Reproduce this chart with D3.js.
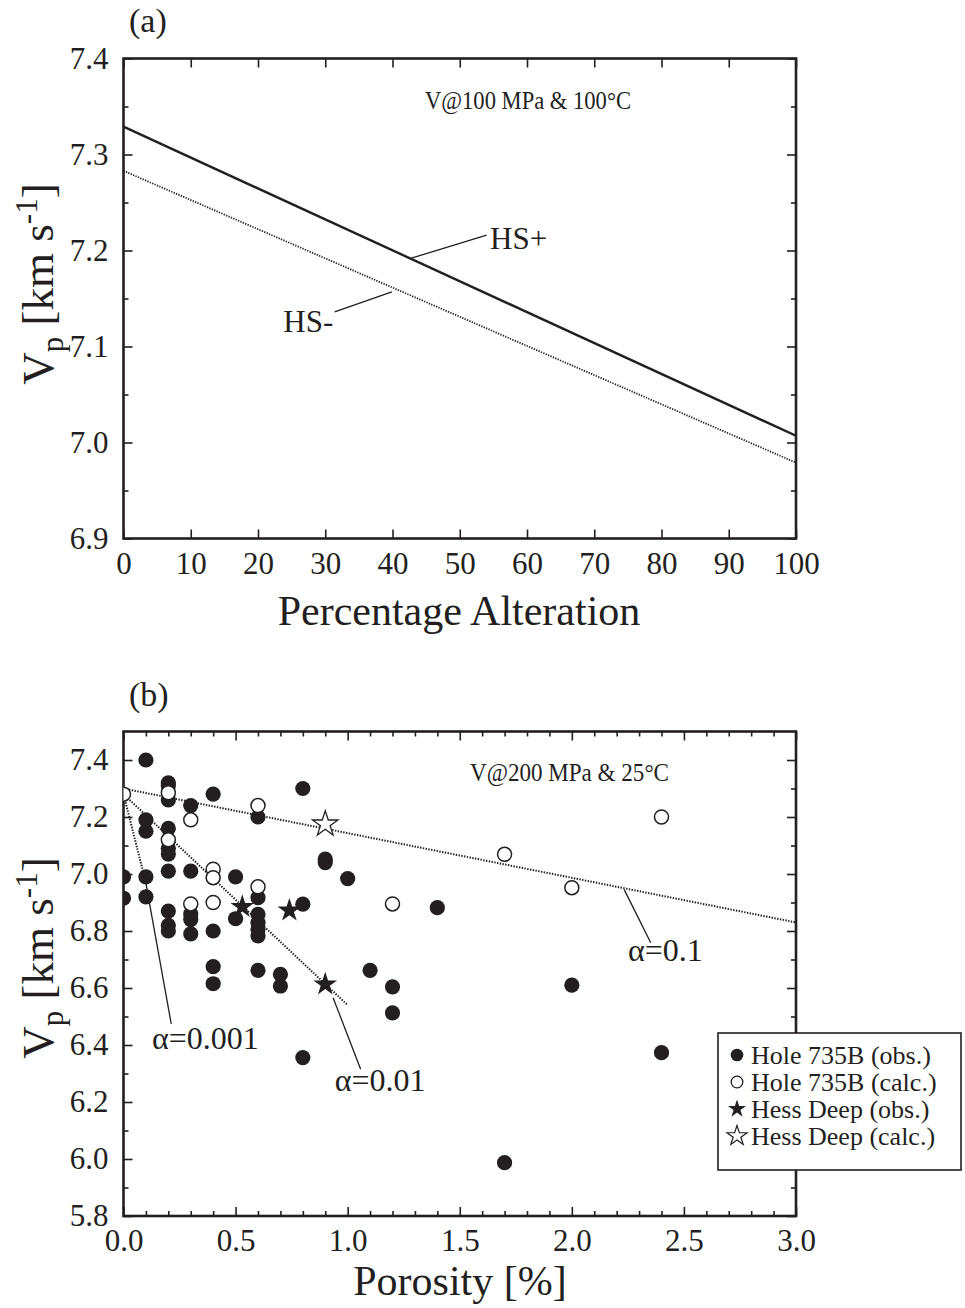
<!DOCTYPE html>
<html><head><meta charset="utf-8">
<script src="https://cdn.jsdelivr.net/npm/d3@7"></script>
<style>body{margin:0;background:#fff}svg{display:block}text{font-family:"Liberation Serif","Times New Roman",serif;fill:#231f20}</style>
</head><body>
<script>
// ---------- Panel (a) data ----------
const altX = [0, 100];
const hsPlus = [7.329, 7.007];
const hsMinus = [7.283, 6.979];
const aXTicks = [0,10,20,30,40,50,60,70,80,90,100];
const aYTicks = [6.9,7.0,7.1,7.2,7.3,7.4];
const aYMinor = [6.95,7.05,7.15,7.25,7.35];

// ---------- Panel (b) data ----------
const obsX = [0.0,0.0, 0.1,0.1,0.1,0.1,0.1,
  0.2,0.2,0.2,0.2,0.2,0.2,0.2,0.2,0.2,0.2,
  0.3,0.3,0.3,0.3,0.3, 0.4,0.4,0.4,0.4, 0.5,0.5,
  0.6,0.6,0.6,0.6,0.6,0.6,0.6, 0.7,0.7, 0.8,0.8,0.8, 0.9,0.9, 1.0, 1.1, 1.2,1.2, 1.4, 1.7, 2.0, 2.4];
const obsV = [6.99,6.915, 7.40,7.19,7.15,6.99,6.92,
  7.32,7.31,7.26,7.16,7.09,7.07,7.01,6.87,6.82,6.80,
  7.24,7.01,6.86,6.84,6.79, 7.28,6.80,6.675,6.615, 6.99,6.843,
  7.20,6.917,6.858,6.829,6.806,6.783,6.662, 6.648,6.607, 7.30,6.894,6.356, 7.052,7.040, 6.984, 6.662, 6.604,6.513, 6.882, 5.987, 6.61, 6.373];
const calcX = [0.0, 0.2,0.2, 0.3,0.3, 0.4,0.4,0.4, 0.6,0.6, 1.2, 1.7, 2.0, 2.4];
const calcV = [7.28, 7.285,7.12, 7.19,6.895, 7.017,6.987,6.90, 7.24,6.955, 6.895, 7.069, 6.952, 7.20];
const hessObsX = [0.53, 0.74, 0.9];
const hessObsV = [6.885, 6.872, 6.613];
const hessCalcX = [0.9];
const hessCalcV = [7.175];
// alpha model lines: [x0, v0, x1, v1]
const alphaNames = ["α=0.1", "α=0.01", "α=0.001"];
const alphaLines = [[0, 7.30, 3.0, 6.83], [0, 7.28, 1.0, 6.54], [0, 7.28, 0.09, 7.00]];
const bXTicks = [0.0,0.5,1.0,1.5,2.0,2.5,3.0];
const bXMinor = [0.1,0.2,0.3,0.4,0.6,0.7,0.8,0.9,1.1,1.2,1.3,1.4,1.6,1.7,1.8,1.9,2.1,2.2,2.3,2.4,2.6,2.7,2.8,2.9];
const bYTicks = [5.8,6.0,6.2,6.4,6.6,6.8,7.0,7.2,7.4];
const bYMinor = [5.9,6.1,6.3,6.5,6.7,6.9,7.1,7.3];
const legendLabels = ["Hole 735B (obs.)", "Hole 735B (calc.)", "Hess Deep (obs.)", "Hess Deep (calc.)"];

const W = 965, H = 1308;
const svg = d3.select("body").append("svg").attr("width", W).attr("height", H);
svg.append("rect").attr("width", W).attr("height", H).attr("fill", "#fff");
const ink = "#231f20";

const xa = d3.scaleLinear().domain([0, 100]).range([123.5, 796]);
const ya = d3.scaleLinear().domain([6.9, 7.4]).range([538.5, 58.5]);
const xb = d3.scaleLinear().domain([0, 3]).range([123.5, 796]);
const yb = d3.scaleLinear().domain([5.8, 7.5]).range([1216, 731.5]);

function drawAxes(x, y, xT, xMin, yT, yMin, fmtX, fmtY) {
  const g = svg.append("g");
  const [x0, x1] = x.range(), [y0, y1] = y.range();
  const add = (axis, tr) => {
    const a = g.append("g").attr("transform", tr).call(axis);
    a.select(".domain").remove();
    a.selectAll("line").attr("stroke", ink).attr("stroke-width", 1.6);
    a.selectAll("text").attr("font-size", 31).attr("fill", ink)
      .attr("font-family", '"Liberation Serif","Times New Roman",serif');
    return a;
  };
  add(d3.axisBottom(x).tickValues(xT).tickSize(-9).tickPadding(13).tickFormat(fmtX), `translate(0,${y0})`);
  if (xMin) add(d3.axisBottom(x).tickValues(xMin).tickSize(-5).tickFormat(""), `translate(0,${y0})`);
  add(d3.axisTop(x).tickValues(xT).tickSize(-9).tickFormat(""), `translate(0,${y1})`);
  if (xMin) add(d3.axisTop(x).tickValues(xMin).tickSize(-5).tickFormat(""), `translate(0,${y1})`);
  add(d3.axisLeft(y).tickValues(yT).tickSize(-9).tickPadding(15).tickFormat(fmtY), `translate(${x0},0)`);
  add(d3.axisLeft(y).tickValues(yMin).tickSize(-5).tickFormat(""), `translate(${x0},0)`);
  add(d3.axisRight(y).tickValues(yT).tickSize(-9).tickFormat(""), `translate(${x1},0)`);
  add(d3.axisRight(y).tickValues(yMin).tickSize(-5).tickFormat(""), `translate(${x1},0)`);
  g.append("rect").attr("x", x0).attr("y", y1).attr("width", x1 - x0).attr("height", y0 - y1)
    .attr("fill", "none").attr("stroke", ink).attr("stroke-width", 2.6);
  return g;
}

function yLabel(cx, cy) {
  const t = svg.append("text").attr("transform", `translate(${cx},${cy}) rotate(-90)`)
    .attr("text-anchor", "middle").attr("font-size", 45);
  t.append("tspan").text("V");
  t.append("tspan").attr("font-size", 31).attr("dy", 10).text("p");
  t.append("tspan").attr("dy", -10).text(" [km s");
  t.append("tspan").attr("font-size", 31).attr("dy", -16).text("-1");
  t.append("tspan").attr("dy", 16).text("]");
}

// ===== Panel (a) =====
drawAxes(xa, ya, aXTicks, null, aYTicks, aYMinor, d3.format("d"), d3.format(".1f"));
const lineA = (vals) => d3.line().x((d, i) => xa(altX[i])).y(d => ya(d))(vals);
svg.append("path").attr("d", lineA(hsPlus)).attr("fill", "none").attr("stroke", ink).attr("stroke-width", 2.4);
svg.append("path").attr("d", lineA(hsMinus)).attr("fill", "none").attr("stroke", ink).attr("stroke-width", 1.8)
  .attr("stroke-dasharray", "1.3,1.3");
// leaders
svg.append("line").attr("x1", xa(42.8)).attr("y1", ya(7.192)).attr("x2", xa(54.0)).attr("y2", ya(7.216))
  .attr("stroke", ink).attr("stroke-width", 1.3);
svg.append("text").attr("x", xa(54.5)).attr("y", ya(7.2015)).attr("font-size", 31).text("HS+");
svg.append("line").attr("x1", xa(31.4)).attr("y1", ya(7.136)).attr("x2", xa(39.9)).attr("y2", ya(7.157))
  .attr("stroke", ink).attr("stroke-width", 1.3);
svg.append("text").attr("x", xa(31.2)).attr("y", ya(7.1155)).attr("text-anchor", "end").attr("font-size", 31).text("HS-");
svg.append("text").attr("x", 425).attr("y", 109).attr("font-size", 25)
  .attr("textLength", 206).attr("lengthAdjust", "spacingAndGlyphs").text("V@100 MPa & 100°C");
svg.append("text").attr("x", 129).attr("y", 32).attr("font-size", 34).text("(a)");
svg.append("text").attr("x", 459).attr("y", 625).attr("text-anchor", "middle").attr("font-size", 42).text("Percentage Alteration");
yLabel(53, 284);

// ===== Panel (b) =====
drawAxes(xb, yb, bXTicks, bXMinor, bYTicks, bYMinor, d3.format(".1f"), d3.format(".1f"));
svg.append("clipPath").attr("id", "clipb").append("rect")
  .attr("x", xb.range()[0]).attr("y", yb.range()[1]).attr("width", xb.range()[1] - xb.range()[0]).attr("height", yb.range()[0] - yb.range()[1]);
const pb = svg.append("g").attr("clip-path", "url(#clipb)");
alphaLines.forEach(l => {
  pb.append("line").attr("x1", xb(l[0])).attr("y1", yb(l[1])).attr("x2", xb(l[2])).attr("y2", yb(l[3]))
    .attr("stroke", ink).attr("stroke-width", 2).attr("stroke-dasharray", "1.4,1.4");
});
pb.selectAll(".obs").data(obsX).enter().append("circle")
  .attr("cx", d => xb(d)).attr("cy", (d, i) => yb(obsV[i])).attr("r", 7.6).attr("fill", ink);
pb.selectAll(".calc").data(calcX).enter().append("circle")
  .attr("cx", d => xb(d)).attr("cy", (d, i) => yb(calcV[i])).attr("r", 7).attr("fill", "#fff")
  .attr("stroke", ink).attr("stroke-width", 1.5);
pb.selectAll(".hobs").data(hessObsX).enter().append("path").attr("d", d3.symbol().type(d3.symbolStar).size(175))
  .attr("transform", (d, i) => `translate(${xb(d)},${yb(hessObsV[i])})`).attr("fill", ink);
pb.selectAll(".hcalc").data(hessCalcX).enter().append("path").attr("d", d3.symbol().type(d3.symbolStar).size(200))
  .attr("transform", (d, i) => `translate(${xb(d)},${yb(hessCalcV[i])})`).attr("fill", "#fff")
  .attr("stroke", ink).attr("stroke-width", 1.3);
// alpha labels and leaders [leader x1,y1,x2,y2, text x, text y]
const alphaAnno = [[2.233, 6.946, 2.352, 6.759, 2.25, 6.695], [0.935, 6.566, 1.058, 6.315, 0.942, 6.239], [0.097, 6.98, 0.213, 6.474, 0.127, 6.385]];
alphaAnno.forEach((a, i) => {
  svg.append("line").attr("x1", xb(a[0])).attr("y1", yb(a[1])).attr("x2", xb(a[2])).attr("y2", yb(a[3]))
    .attr("stroke", ink).attr("stroke-width", 1.3);
  svg.append("text").attr("x", xb(a[4])).attr("y", yb(a[5])).attr("font-size", 32).text(alphaNames[i]);
});
svg.append("text").attr("x", 470).attr("y", 781).attr("font-size", 25)
  .attr("textLength", 199).attr("lengthAdjust", "spacingAndGlyphs").text("V@200 MPa & 25°C");
svg.append("text").attr("x", 129).attr("y", 706).attr("font-size", 34).text("(b)");
svg.append("text").attr("x", 460).attr("y", 1295).attr("text-anchor", "middle").attr("font-size", 42).text("Porosity [%]");
yLabel(53, 958);

// legend
const lg = svg.append("g");
lg.append("rect").attr("x", 718).attr("y", 1033).attr("width", 243).attr("height", 137)
  .attr("fill", "#fff").attr("stroke", ink).attr("stroke-width", 1.6);
const rows = [1055, 1082, 1109, 1136];
legendLabels.forEach((lab, i) => {
  const cy = rows[i], cx = 737;
  if (i === 0) lg.append("circle").attr("cx", cx).attr("cy", cy).attr("r", 6.3).attr("fill", ink);
  if (i === 1) lg.append("circle").attr("cx", cx).attr("cy", cy).attr("r", 5.8).attr("fill", "#fff").attr("stroke", ink).attr("stroke-width", 1.3);
  if (i === 2) lg.append("path").attr("d", d3.symbol().type(d3.symbolStar).size(100)).attr("transform", `translate(${cx},${cy})`).attr("fill", ink);
  if (i === 3) lg.append("path").attr("d", d3.symbol().type(d3.symbolStar).size(125)).attr("transform", `translate(${cx},${cy})`).attr("fill", "#fff").attr("stroke", ink).attr("stroke-width", 1.2);
  lg.append("text").attr("x", 751).attr("y", cy + 9).attr("font-size", 26).text(lab);
});
</script>
</body></html>
